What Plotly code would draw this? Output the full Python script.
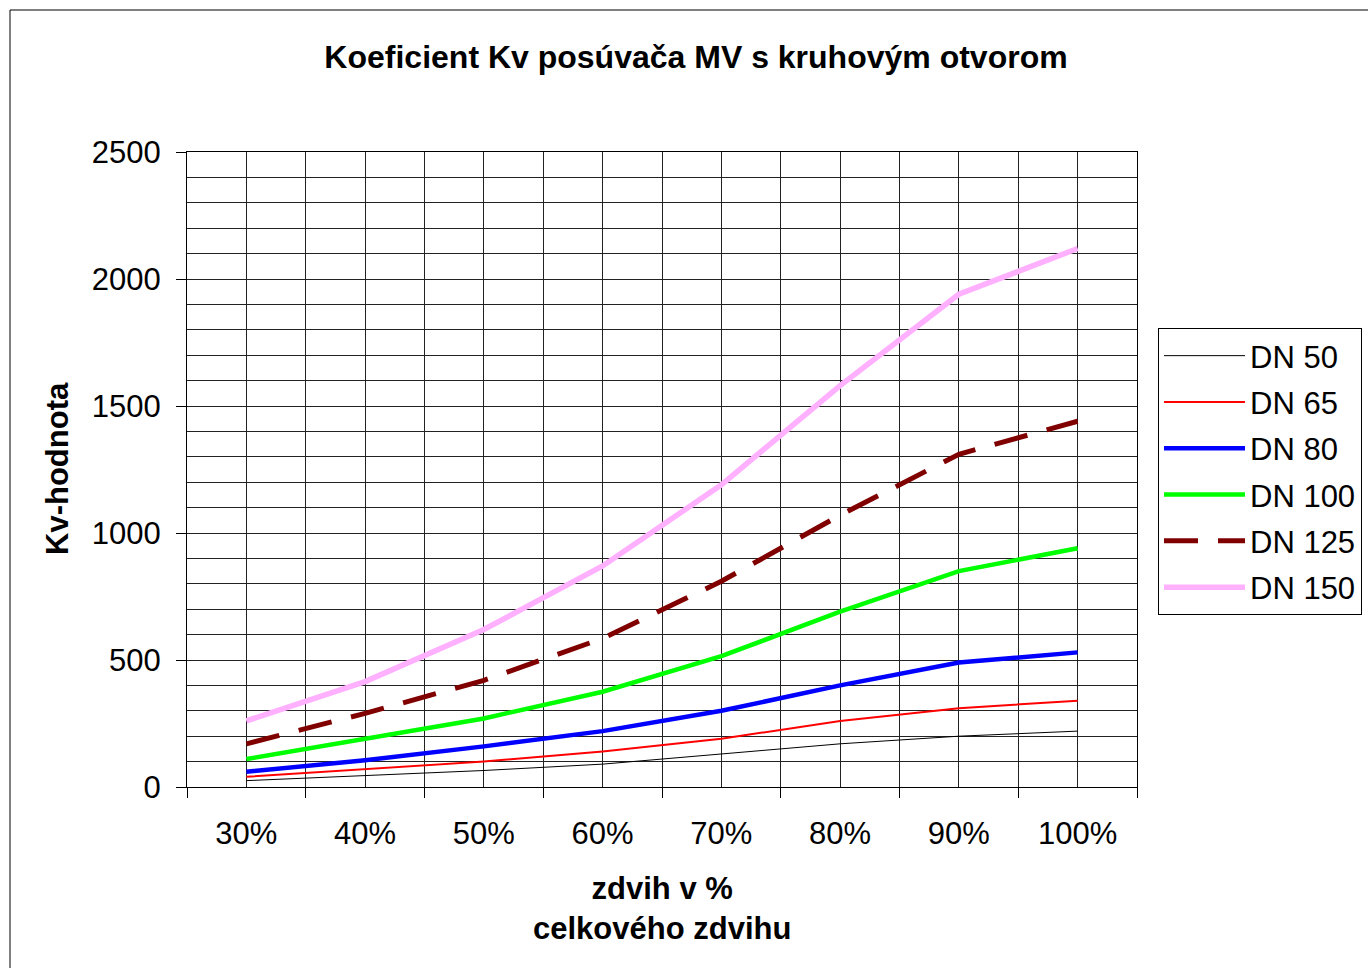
import plotly.graph_objects as go

# ---- data ----
categories = ["30%", "40%", "50%", "60%", "70%", "80%", "90%", "100%"]
lift = [30, 40, 50, 60, 70, 80, 90, 100]

dn50 = [25, 45, 65, 90, 130, 170, 200, 220]
dn65 = [40, 70, 100, 140, 190, 260, 310, 340]
dn80 = [60, 105, 160, 220, 300, 400, 490, 530]
dn100 = [110, 190, 270, 375, 515, 690, 850, 940]
dn125 = [170, 290, 420, 585, 810, 1070, 1310, 1440]
dn150 = [260, 415, 620, 870, 1190, 1580, 1940, 2120]

series_names = ["DN 50", "DN 65", "DN 80", "DN 100", "DN 125", "DN 150"]
series_values = [dn50, dn65, dn80, dn100, dn125, dn150]

styles = [
    dict(color="#000000", width=1, dash="solid"),
    dict(color="#FF0000", width=2, dash="solid"),
    dict(color="#0000FF", width=4.5, dash="solid"),
    dict(color="#00FF00", width=4.5, dash="solid"),
    dict(color="#800000", width=5, dash="34px,20px"),
    dict(color="#FFB0FF", width=5.5, dash="solid"),
]

FONT = "Arial, Liberation Sans, sans-serif"
fig = go.Figure()
for i, (name, vals, st) in enumerate(zip(series_names, series_values, styles)):
    fig.add_trace(go.Scatter(
        x=lift, y=vals, name=name, mode="lines",
        line=dict(color=st["color"], width=st["width"], dash=st["dash"]),
        legendgroup=f"g{i}",
    ))

L, R, T, B = 187, 1137, 152, 787
W, H = 1368, 968
pw, ph = R - L, B - T

def px(x):
    return (x - L) / pw

def py(y):
    return (B - y) / ph

grid = "#222222"
fig.update_layout(
    width=W, height=H,
    margin=dict(l=L, r=W - R, t=T, b=H - B, autoexpand=False),
    paper_bgcolor="white", plot_bgcolor="white",
    font=dict(family=FONT, size=31, color="black"),
    title=dict(text="<b>Koeficient Kv posúvača MV s kruhovým otvorom</b>",
               x=696 / W, xanchor="center", y=1 - 57 / H, yanchor="middle",
               font=dict(size=32, family=FONT, color="black")),
    xaxis=dict(
        range=[25, 105], tickmode="array", tickvals=lift, ticktext=categories,
        ticks="", showgrid=True, gridcolor=grid, gridwidth=1,
        minor=dict(tickmode="linear", tick0=25, dtick=10, ticks="outside",
                   ticklen=10, tickcolor="black", showgrid=True,
                   gridcolor=grid, gridwidth=1),
        showline=True, linecolor="black", linewidth=1, mirror=True,
        zeroline=False, ticklabelstandoff=19,
        tickfont=dict(size=31, family=FONT),
    ),
    yaxis=dict(
        range=[0, 2500], tickmode="linear", tick0=0, dtick=500,
        ticks="outside", ticklen=10, tickcolor="black",
        showgrid=True, gridcolor=grid, gridwidth=1,
        minor=dict(tickmode="linear", tick0=0, dtick=100, ticks="",
                   showgrid=True, gridcolor=grid, gridwidth=1),
        showline=True, linecolor="black", linewidth=1, mirror=True,
        zeroline=False, ticklabelstandoff=9,
        tickfont=dict(size=31, family=FONT),
    ),
    legend=dict(
        x=px(1158), y=py(328), xanchor="left", yanchor="top",
        bordercolor="#000000", borderwidth=1, bgcolor="white",
        font=dict(size=31, family=FONT), itemwidth=81,
        tracegroupgap=3, traceorder="grouped",
    ),
    showlegend=True,
)

fig.add_annotation(text="<b>zdvih v %<br>celkového zdvihu</b>", xref="paper", yref="paper",
                   x=px(662), y=py(908), xanchor="center", yanchor="middle",
                   showarrow=False, font=dict(size=31, family=FONT, color="black"))
fig.add_annotation(text="<b>Kv-hodnota</b>", xref="paper", yref="paper",
                   x=px(57), y=py(469), xanchor="center", yanchor="middle", textangle=-90,
                   showarrow=False, font=dict(size=31, family=FONT, color="black"))

# outer chart border
fig.add_shape(type="rect", xref="paper", yref="paper",
              x0=px(10), x1=px(1380), y0=py(975), y1=py(10),
              line=dict(color="black", width=1), fillcolor="rgba(0,0,0,0)", layer="below")

fig.write_html("out.html", post_script="document.body.style.margin='0';",
               config={"displayModeBar": False})
